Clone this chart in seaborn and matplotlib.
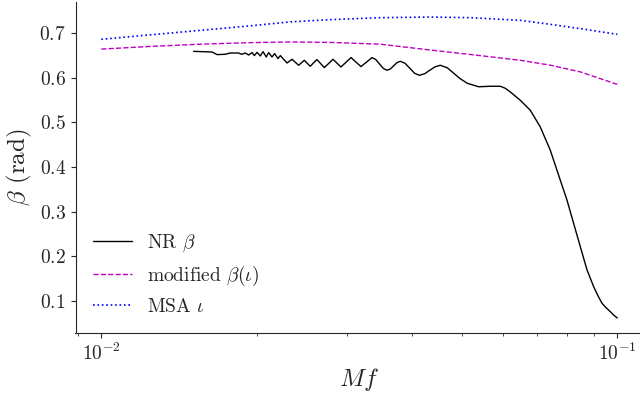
import matplotlib
matplotlib.use("Agg")
import matplotlib.pyplot as plt
import seaborn as sns

# --- data ---
nr_f = [0.01510, 0.01639, 0.01676, 0.01739, 0.01778, 0.01843, 0.01873, 0.01901,
        0.01930, 0.01960, 0.01980, 0.02004, 0.02033, 0.02058, 0.02088, 0.02110,
        0.02142, 0.02167, 0.02200, 0.02223, 0.02256, 0.02291, 0.02316, 0.02343,
        0.02377, 0.02412, 0.02443, 0.02474, 0.02507, 0.02541, 0.02579, 0.02618,
        0.02661, 0.02705, 0.02758, 0.02812, 0.02863, 0.02914, 0.02980, 0.03048,
        0.03116, 0.03186, 0.03266, 0.03346, 0.03404, 0.03461, 0.03520, 0.03578,
        0.03632, 0.03687, 0.03742, 0.03798, 0.03879, 0.03962, 0.04047, 0.04134,
        0.04232, 0.04331, 0.04435, 0.04539, 0.04683, 0.04832, 0.04963, 0.05120,
        0.05385, 0.05674, 0.05933, 0.06066, 0.06203, 0.06486, 0.06782, 0.07091,
        0.07415, 0.07753, 0.07989, 0.08229, 0.08479, 0.08737, 0.08999, 0.09167,
        0.09340, 0.09513, 0.09692, 0.09845, 0.10000]
nr_beta = [0.6590, 0.6575, 0.6517, 0.6524, 0.6553, 0.6553, 0.6524, 0.6553,
           0.6508, 0.6562, 0.6495, 0.6568, 0.6486, 0.6584, 0.6463, 0.6562,
           0.6463, 0.6539, 0.6428, 0.6495, 0.6412, 0.6329, 0.6372, 0.6412,
           0.6345, 0.6278, 0.6334, 0.6390, 0.6322, 0.6255, 0.6334, 0.6405,
           0.6316, 0.6226, 0.6318, 0.6412, 0.6325, 0.6240, 0.6345, 0.6450,
           0.6349, 0.6249, 0.6349, 0.6450, 0.6407, 0.6307, 0.6208, 0.6166,
           0.6195, 0.6267, 0.6338, 0.6367, 0.6322, 0.6211, 0.6099, 0.6054,
           0.6088, 0.6166, 0.6244, 0.6278, 0.6222, 0.6088, 0.5976, 0.5875,
           0.5797, 0.5808, 0.5808, 0.5763, 0.5681, 0.5495, 0.5272, 0.4898,
           0.4377, 0.3707, 0.3259, 0.2738, 0.2215, 0.1694, 0.1320, 0.1123,
           0.0949, 0.0848, 0.0761, 0.0681, 0.0620]

model_f = [0.01000, 0.01245, 0.01556, 0.01944, 0.02324, 0.02778, 0.03473,
           0.04340, 0.05188, 0.06486, 0.07415, 0.08479, 0.10000]
mod_beta = [0.664, 0.670, 0.675, 0.6785, 0.680, 0.679, 0.675,
            0.662, 0.652, 0.639, 0.628, 0.613, 0.585]
msa_iota = [0.6859, 0.6960, 0.7060, 0.7161, 0.7250, 0.7300, 0.7344,
            0.7358, 0.7344, 0.7284, 0.7195, 0.7098, 0.6971]

labels = [r"NR $\beta$", r"modified $\beta(\iota)$", r"MSA $\iota$"]

# --- style ---
sns.set_style("ticks")
plt.rcParams["font.family"] = ["cmr10", "DejaVu Serif"]
plt.rcParams["mathtext.fontset"] = "cm"
plt.rcParams["axes.formatter.use_mathtext"] = True
plt.rcParams["axes.unicode_minus"] = False

fig = plt.figure(figsize=(6.4, 3.95), dpi=100)
ax = fig.add_axes([75.5 / 640, 62 / 395, 567.6 / 640, 331 / 395])

sns.lineplot(x=nr_f, y=nr_beta, ax=ax, color="black", lw=1.0, label=labels[0],
             estimator=None, sort=False)
sns.lineplot(x=model_f, y=mod_beta, ax=ax, color="m", lw=1.0,
             linestyle="--", label=labels[1], estimator=None, sort=False)
sns.lineplot(x=model_f, y=msa_iota, ax=ax, color="b", lw=1.2,
             linestyle=":", label=labels[2], estimator=None, sort=False)

ax.set_xscale("log")
ax.set_xlabel(r"$Mf$", fontsize=18, labelpad=1)
ax.set_ylabel(r"$\beta$ (rad)", fontsize=18)
ax.tick_params(axis="both", which="major", labelsize=14)
ax.legend(loc="lower left", frameon=False, fontsize=14)
sns.despine(ax=ax)

fig.savefig("out.png", dpi=100)
